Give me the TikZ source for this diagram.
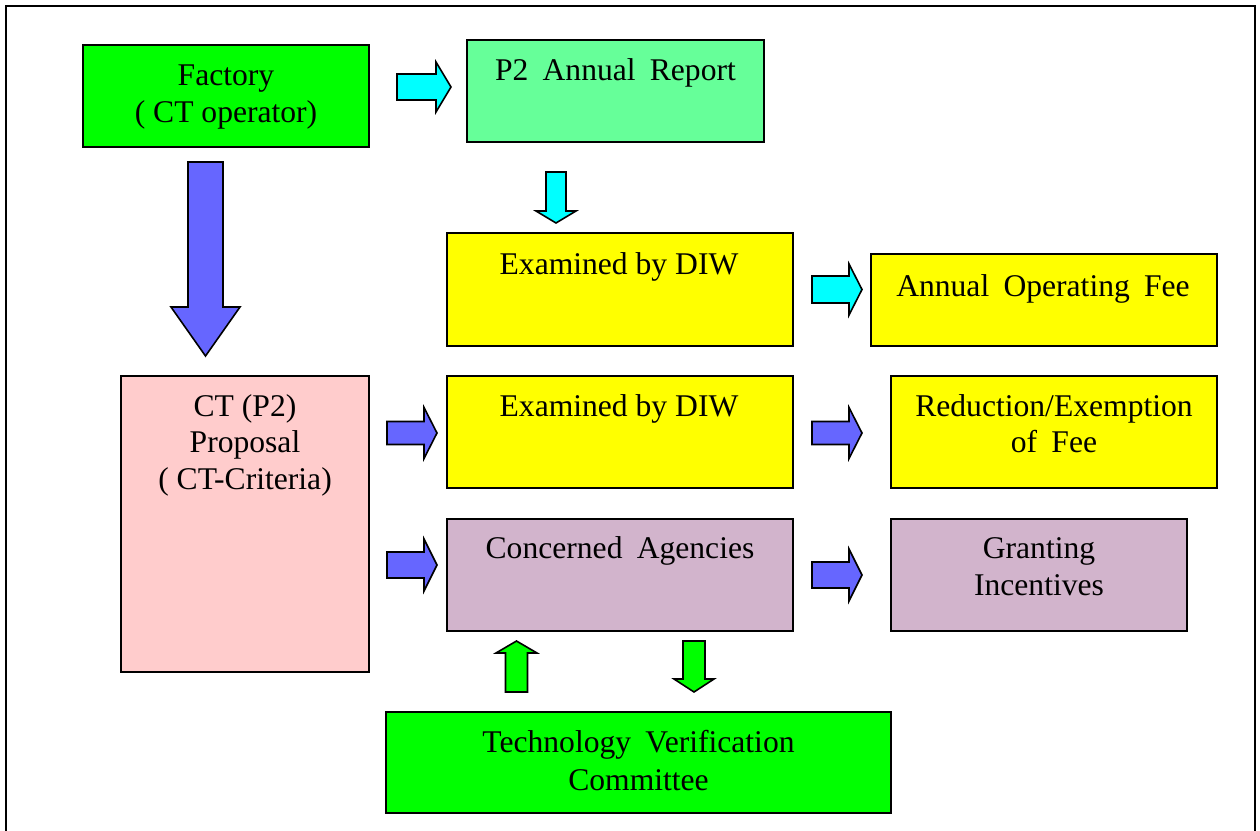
\documentclass[tikz,border=0pt]{standalone}
\usepackage{fontspec}
\setmainfont{Liberation Serif}
\usetikzlibrary{fit}
\definecolor{cgreen}{HTML}{00FF00}
\definecolor{cpgreen}{HTML}{66FF99}
\definecolor{ccyan}{HTML}{00FFFF}
\definecolor{cyel}{HTML}{FFFF00}
\definecolor{cblue}{HTML}{6666FF}
\definecolor{cpink}{HTML}{FFCCCC}
\definecolor{cmauve}{HTML}{D2B4CC}
\newcommand\dsp{\hspace{0.45em}}
\tikzset{
  boxst/.style={draw=black, line width=1pt, inner sep=0pt},
  txt/.style={anchor=base, inner sep=0pt, font=\fontsize{15.8}{18.5}\selectfont},
  arr/.style={draw=black, line width=0.8pt, line join=miter},
}
% horizontal right arrow: name x1 xh x2 yc s h colour
\newcommand\harr[8]{\path[arr, fill=#8] (#2,#5-#6) coordinate (#1s) -- (#3,#5-#6) -- (#3,#5-#7) -- (#4,#5) coordinate (#1t) -- (#3,#5+#7) -- (#3,#5+#6) -- (#2,#5+#6) -- cycle;}
% vertical arrow: name xc y1 yh y2 s h colour  (from y1 to tip y2)
\newcommand\varr[8]{\path[arr, fill=#8] (#2-#6,#3) coordinate (#1s) -- (#2-#6,#4) -- (#2-#7,#4) -- (#2,#5) coordinate (#1t) -- (#2+#7,#4) -- (#2+#6,#4) -- (#2+#6,#3) -- cycle;}
\begin{document}
\begin{tikzpicture}[x=0.5pt, y=-0.5pt]
\useasboundingbox (0,0) rectangle (1260,831);
\fill[white] (0,0) rectangle (1260,831);
% outer frame
\draw[line width=1.2pt] (6,845) -- (6,6) -- (1255,6) -- (1255,845);

% boxes
\node[boxst, fill=cgreen, fit={(83,45)(369,147)}] (factory) {};
\node[boxst, fill=cpgreen, fit={(467,40)(764,142)}] (report) {};
\node[boxst, fill=cyel, fit={(447,233)(793,346)}] (exam1) {};
\node[boxst, fill=cyel, fit={(871,254)(1217,346)}] (fee) {};
\node[boxst, fill=cpink, fit={(121,376)(369,672)}] (prop) {};
\node[boxst, fill=cyel, fit={(447,376)(793,488)}] (exam2) {};
\node[boxst, fill=cyel, fit={(891,376)(1217,488)}] (reduc) {};
\node[boxst, fill=cmauve, fit={(447,519)(793,631)}] (agency) {};
\node[boxst, fill=cmauve, fit={(891,519)(1187,631)}] (grant) {};
\node[boxst, fill=cgreen, fit={(386,712)(891,813)}] (tvc) {};

% texts
\node[txt] (factoryA) at (226,85) {Factory};
\node[txt] (factoryB) at (226,122) {( CT operator)};
\node[txt] (reportA) at (615.5,80) {P2\dsp Annual\dsp Report};
\node[txt] (exam1A) at (619,274) {Examined by DIW};
\node[txt] (feeA) at (1043,296) {Annual\dsp Operating\dsp Fee};
\node[txt] (propA) at (245,416) {CT (P2)};
\node[txt] (propB) at (245,452) {Proposal};
\node[txt] (propC) at (245,489) {( CT-Criteria)};
\node[txt] (exam2A) at (619,416) {Examined by DIW};
\node[txt] (reducA) at (1054,416) {Reduction/Exemption};
\node[txt] (reducB) at (1054,452) {of\dsp Fee};
\node[txt] (agencyA) at (620,558) {Concerned\dsp Agencies};
\node[txt] (grantA) at (1039,558) {Granting};
\node[txt] (grantB) at (1039,595) {Incentives};
\node[txt] (tvcA) at (638.5,752) {Technology\dsp Verification};
\node[txt] (tvcB) at (638.5,790) {Committee};

% block arrows
\harr{c1}{397}{436}{451}{87}{13}{25}{ccyan}
\varr{c2}{556}{172}{211}{223}{10}{20}{ccyan}
\harr{c3}{812}{849}{862}{289.5}{13.5}{25.5}{ccyan}
\varr{b0}{205.5}{162}{307}{356}{17.5}{34.5}{cblue}
\harr{b1}{387}{424}{437}{433}{11.5}{25.5}{cblue}
\harr{b2}{812}{849}{862}{433}{11.5}{25.5}{cblue}
\harr{b3}{387}{424}{437}{565}{13}{26}{cblue}
\harr{b4}{812}{849}{862}{575}{13}{26}{cblue}
\varr{g1}{516.5}{692}{653}{641}{11}{20.5}{cgreen}
\varr{g2}{694}{641}{679}{692}{11}{20}{cgreen}
\end{tikzpicture}
\end{document}
